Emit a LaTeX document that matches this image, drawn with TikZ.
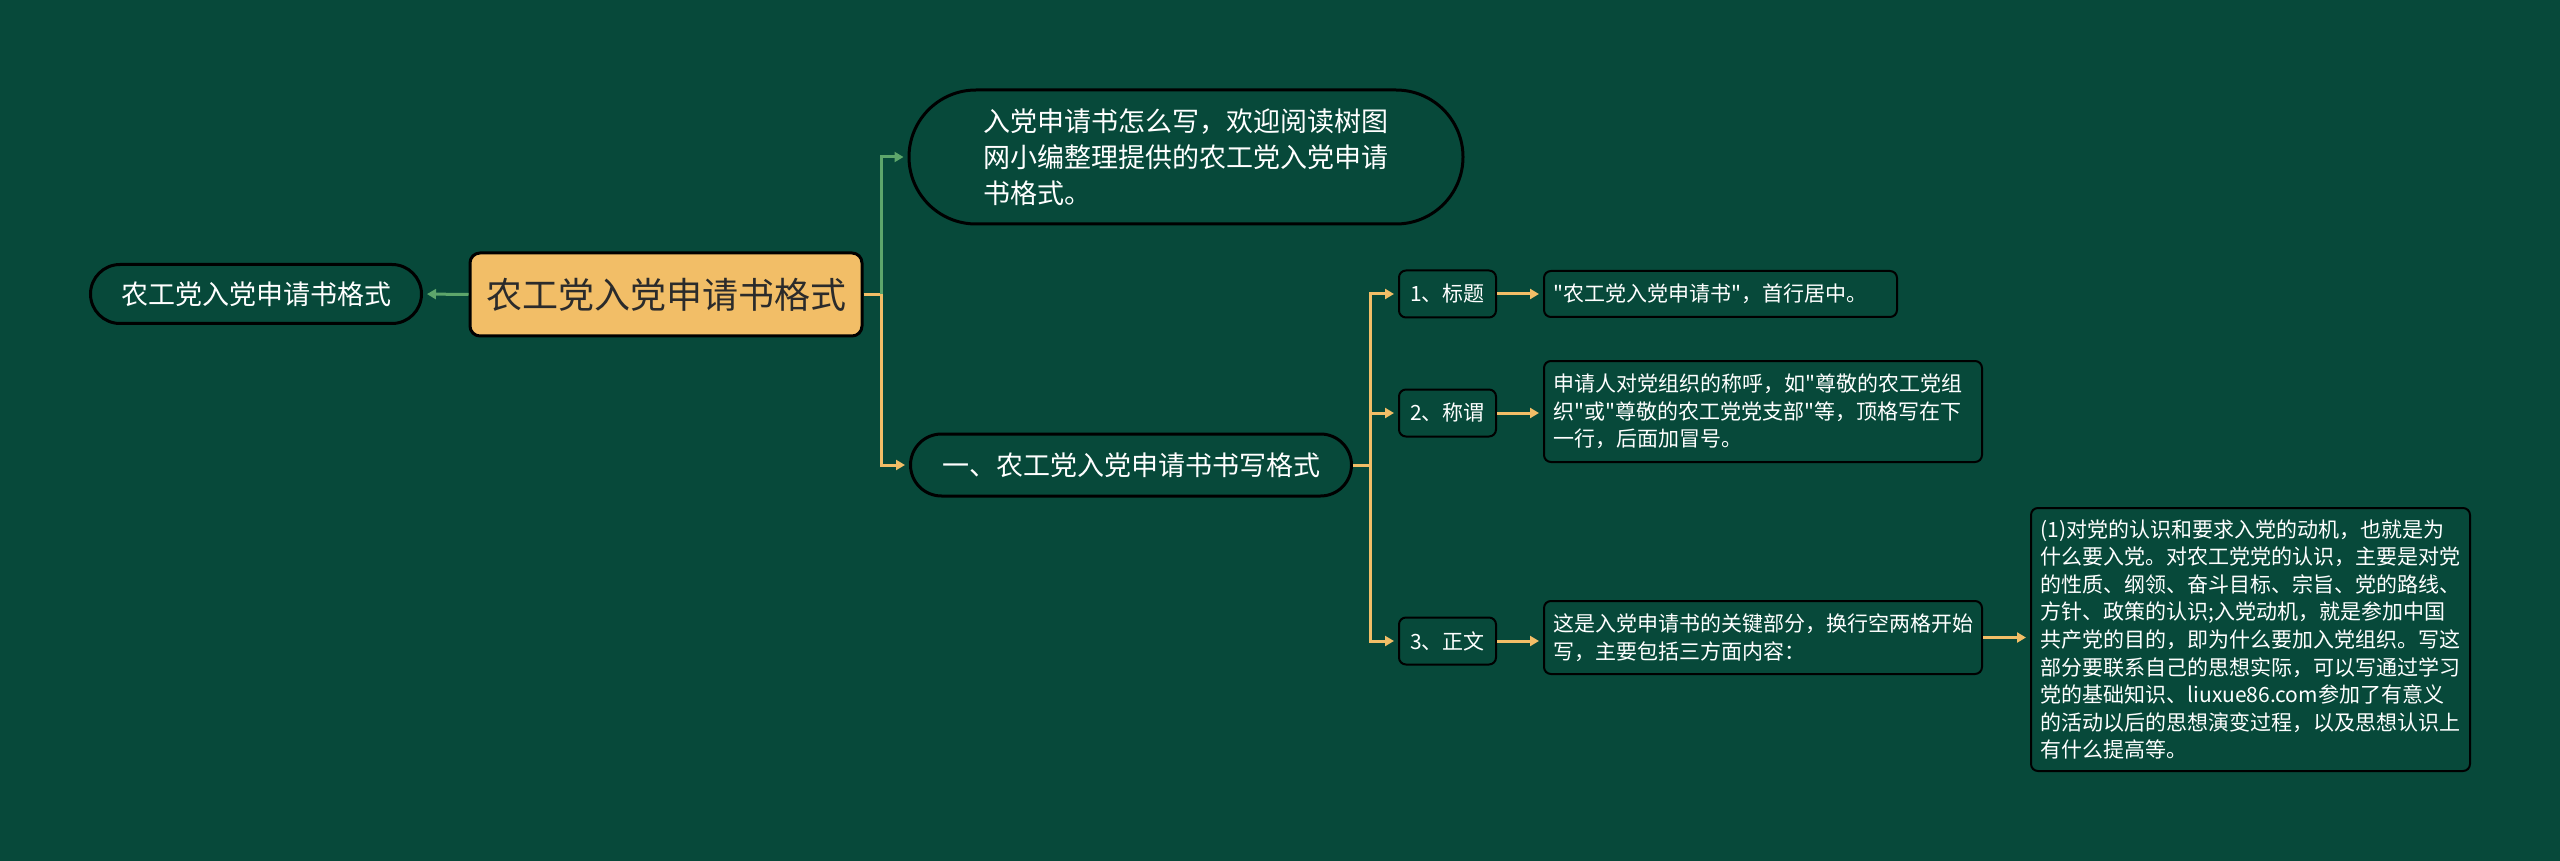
\documentclass[tikz,border=0pt]{standalone}
\usepackage{fontspec}
\setmainfont{Noto Sans CJK SC}
\usetikzlibrary{arrows.meta}
\definecolor{fondo}{HTML}{07493A}
\definecolor{naranja}{HTML}{F2BE67}
\definecolor{verde}{HTML}{5DA66B}
\definecolor{oscuro}{HTML}{2B2B2B}
\newcommand{\grande}{\fontsize{18pt}{22pt}\selectfont}
\newcommand{\medio}{\fontsize{13.5pt}{18pt}\selectfont}
\newcommand{\chico}{\fontsize{10.5pt}{13.8pt}\selectfont}
% comilla recta, sin el mapeo tex-text
\font\comillafont="Noto Sans CJK SC" at 10.5pt
\newcommand{\cq}{{\comillafont\char"22}}

\begin{document}
\begin{tikzpicture}[x=0.5pt,y=-0.5pt,
    pill/.style={draw=black,line width=1.5pt,fill=fondo,text=white,font=\medio,align=left,inner sep=0pt},
    caja/.style={draw=black,line width=1pt,fill=fondo,text=white,font=\chico,rounded corners=3.5pt},
    texto/.style={caja,align=left,inner xsep=4.75pt,inner ysep=0pt},
    flecha/.style={line width=1.5pt,-{Triangle[length=4.5pt,width=5pt]},shorten >=2pt}]
        % Fondo
        \fill[fondo] (0,0) rectangle (2560,861);
        % Nodos
        \node[draw=black,line width=1.5pt,fill=naranja,text=oscuro,font=\grande,rounded corners=5pt,
            minimum width=196pt,minimum height=41.5pt] (raiz) at (666,294.5) {农工党入党申请书格式};
        \node[pill,minimum width=165.5pt,minimum height=29.5pt,rounded corners=14.75pt] (izq) at (256,294) {农工党入党申请书格式};
        \node[pill,minimum width=277pt,minimum height=67pt,rounded corners=33.5pt] (arriba) at (1186,157)
            {入党申请书怎么写，欢迎阅读树图\\网小编整理提供的农工党入党申请\\书格式。};
        \node[pill,minimum width=220.5pt,minimum height=31pt,rounded corners=15.5pt] (sec) at (1131,465) {一、农工党入党申请书书写格式};
        \node[caja,minimum width=48.5pt,minimum height=23.5pt,inner sep=0pt] (b1) at (1447.5,294) {1、标题};
        \node[caja,minimum width=48.5pt,minimum height=23.5pt,inner sep=0pt] (b2) at (1447.5,413) {2、称谓};
        \node[caja,minimum width=48.5pt,minimum height=23.5pt,inner sep=0pt] (b3) at (1447.5,641) {3、正文};
        \node[texto,text width=167pt,minimum height=23pt] (t1) at (1720.5,294) {\cq 农工党入党申请书\cq，首行居中。};
        \node[texto,text width=209.5pt,minimum height=50.5pt] (t2) at (1763,411.5)
            {申请人对党组织的称呼，如\cq 尊敬的农工党组\\织\cq 或\cq 尊敬的农工党党支部\cq 等，顶格写在下\\一行，后面加冒号。};
        \node[texto,text width=209.5pt,minimum height=36.5pt] (t3) at (1763,637.5)
            {这是入党申请书的关键部分，换行空两格开始\\写，主要包括三方面内容：};
        \node[texto,text width=210pt,minimum height=131.5pt] (big) at (2250.5,639.5)
            {(1)对党的认识和要求入党的动机，也就是为\\什么要入党。对农工党党的认识，主要是对党\\的性质、纲领、奋斗目标、宗旨、党的路线、\\方针、政策的认识;入党动机，就是参加中国\\共产党的目的，即为什么要加入党组织。写这\\部分要联系自己的思想实际，可以写通过学习\\党的基础知识、liuxue86.com参加了有意义\\的活动以后的思想演变过程，以及思想认识上\\有什么提高等。};
        % Ramas
        \draw[naranja,flecha] (raiz.east) -- ++(9pt,0) |- (sec.west);
        \draw[verde,flecha] ([xshift=9pt]raiz.east) |- (arriba.west);
        \draw[verde,flecha] (raiz.west) -- (izq.east);
        \foreach \n in {b1,b2,b3}{
            \draw[naranja,flecha] (sec.east) -- ++(8.5pt,0) |- (\n.west);
        }
        \foreach \a/\b in {b1/t1,b2/t2,b3/t3,t3/big}{
            \draw[naranja,flecha] (\a.east) -- (\a.east -| \b.west);
        }
    \end{tikzpicture}
\end{document}
